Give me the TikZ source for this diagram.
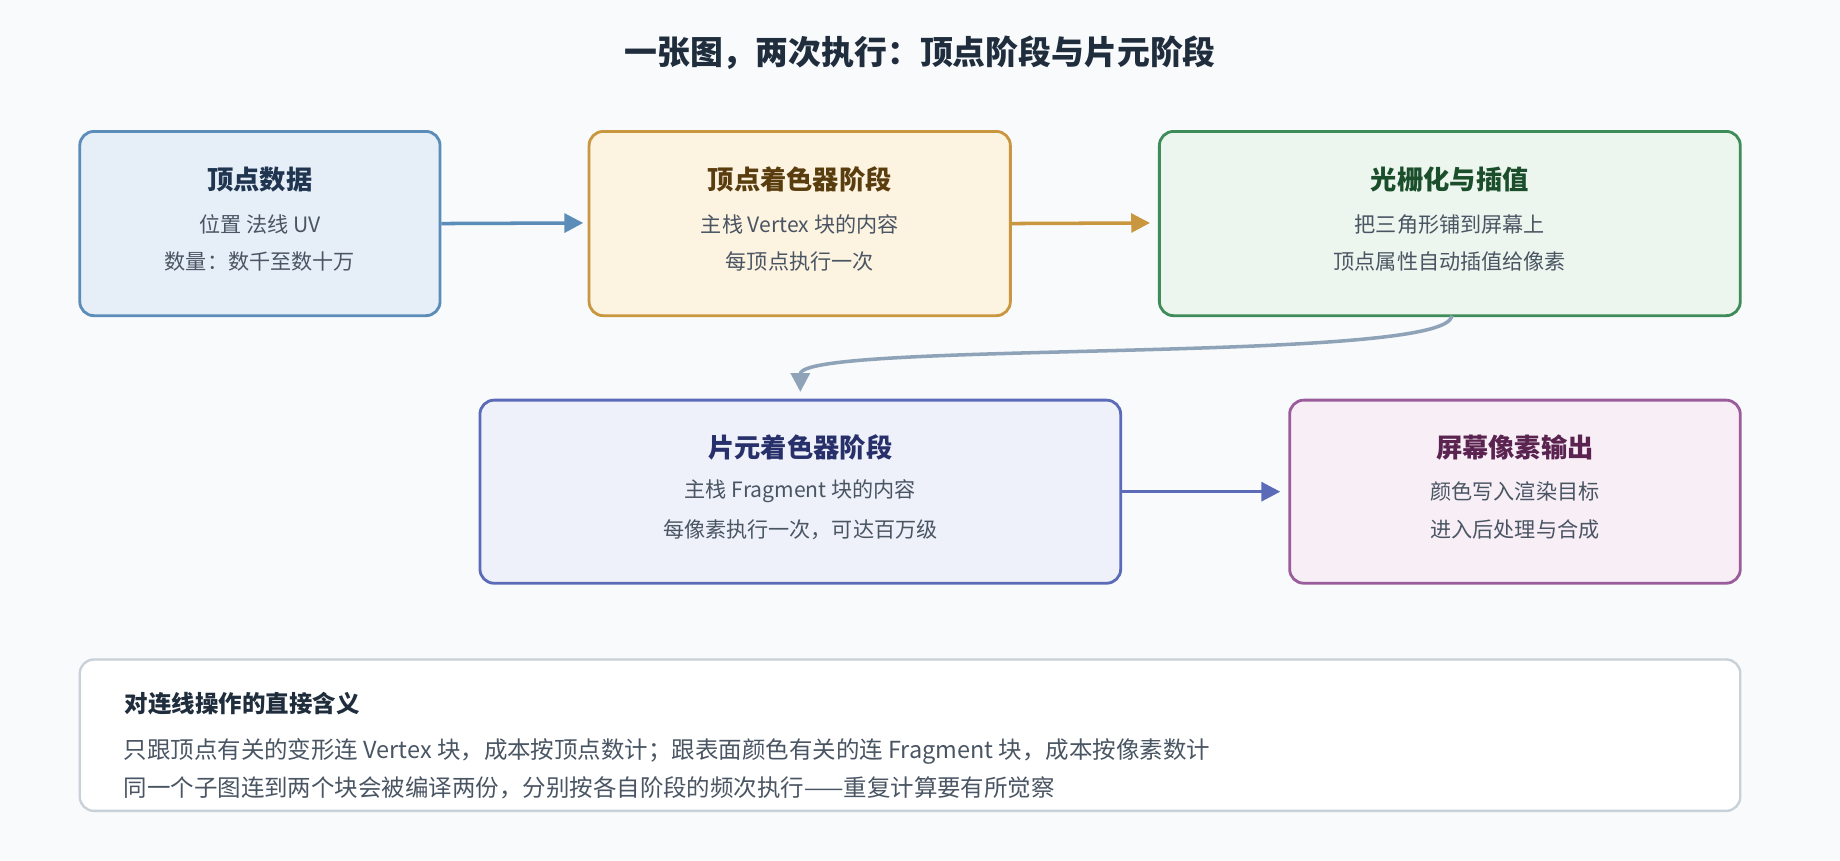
\documentclass[tikz,border=0pt]{standalone}
\usepackage{fontspec}
\setmainfont{Noto Sans CJK SC}
\usetikzlibrary{arrows.meta}
\definecolor{bg}{HTML}{F8FAFC}
\definecolor{ink}{HTML}{1F2D3D}
\definecolor{sub}{HTML}{4A5563}
\definecolor{bF}{HTML}{E6EEF8}\definecolor{bD}{HTML}{5B8DB8}\definecolor{bT}{HTML}{1F3550}
\definecolor{oF}{HTML}{FDF3E1}\definecolor{oD}{HTML}{C9973F}\definecolor{oT}{HTML}{5A3D0E}
\definecolor{gF}{HTML}{EDF6EE}\definecolor{gD}{HTML}{3E8C5A}\definecolor{gT}{HTML}{1B4F2C}
\definecolor{iF}{HTML}{EEF1FA}\definecolor{iD}{HTML}{5B6BB8}\definecolor{iT}{HTML}{27306A}
\definecolor{pF}{HTML}{F7EEF6}\definecolor{pD}{HTML}{9A5C9A}\definecolor{pT}{HTML}{5A2350}
\definecolor{cD}{HTML}{8FA3B8}\definecolor{nD}{HTML}{C8D0D8}
\begin{document}
\begin{tikzpicture}[x=0.5pt,y=-0.5pt,
 box/.style={draw,line width=1.2pt,rounded corners=6pt},
 ttl/.style={font=\fontsize{11.2pt}{13pt}\selectfont\bfseries,anchor=center},
 txt/.style={font=\fontsize{9pt}{11pt}\selectfont,text=sub,anchor=center},
 ftx/.style={font=\fontsize{10pt}{12pt}\selectfont,text=sub,anchor=west,inner sep=0pt},
 arr/.style={line width=1.5pt,-{Triangle[length=8pt,width=8pt]}}]
\fill[bg] (0,0) rectangle (1568,733);
\useasboundingbox (0,0) rectangle (1568,733);
\node[font=\fontsize{14pt}{16pt}\selectfont\bfseries,text=ink] (title) at (784,45) {一张图，两次执行：顶点阶段与片元阶段};
% boxes
\node[box,draw=bD,fill=bF,minimum width=307*0.5pt,minimum height=157*0.5pt] (a) at (221.5,190.5) {};
\node[box,draw=oD,fill=oF,minimum width=359*0.5pt,minimum height=157*0.5pt] (b) at (681.5,190.5) {};
\node[box,draw=gD,fill=gF,minimum width=495*0.5pt,minimum height=157*0.5pt] (c) at (1235.5,190.5) {};
\node[box,draw=iD,fill=iF,minimum width=546*0.5pt,minimum height=156*0.5pt] (d) at (682,419) {};
\node[box,draw=pD,fill=pF,minimum width=384*0.5pt,minimum height=156*0.5pt] (e) at (1291,419) {};
\node[box,draw=nD,fill=white,line width=1pt,minimum width=1415*0.5pt,minimum height=129*0.5pt] (f) at (775.5,626.5) {};
% texts
\node[ttl,text=bT] (at) at (221.5,153) {顶点数据};
\node[txt] (a1) at (221.5,191) {位置 法线 UV};
\node[txt] (a2) at (221.5,223) {数量：数千至数十万};
\node[ttl,text=oT] (bt) at (681.5,153) {顶点着色器阶段};
\node[txt] (b1) at (681.5,191) {主栈 Vertex 块的内容};
\node[txt] (b2) at (681.5,223) {每顶点执行一次};
\node[ttl,text=gT] (ct) at (1235.5,153) {光栅化与插值};
\node[txt] (c1) at (1235.5,191) {把三角形铺到屏幕上};
\node[txt] (c2) at (1235.5,223) {顶点属性自动插值给像素};
\node[ttl,text=iT] (dt) at (682,381) {片元着色器阶段};
\node[txt] (d1) at (682,419) {主栈 Fragment 块的内容};
\node[txt] (d2) at (682,451) {每像素执行一次，可达百万级};
\node[ttl,text=pT] (et) at (1291,381) {屏幕像素输出};
\node[txt] (e1) at (1291,419) {颜色写入渲染目标};
\node[txt] (e2) at (1291,451) {进入后处理与合成};
\node[ftx,font=\fontsize{10pt}{12pt}\selectfont\bfseries,text=ink] (ft) at (106,600) {对连线操作的直接含义};
\node[ftx] (f1) at (105,640) {只跟顶点有关的变形连 Vertex 块，成本按顶点数计；跟表面颜色有关的连 Fragment 块，成本按像素数计};
\node[ftx] (f2) at (105,671) {同一个子图连到两个块会被编译两份，分别按各自阶段的频次执行——重复计算要有所觉察};
% arrows
\coordinate (b0) at (497,190);
\draw[arr,draw=bD,fill=bD] (a.east) -- (b0);
\coordinate (b9) at (980,190);
\draw[arr,draw=oD,fill=oD] (b.east) -- (b9);
\coordinate (c0) at (1237,269);\coordinate (d0) at (682,334);
\draw[line width=1.5pt,draw=cD,-{Triangle[length=8pt,width=8pt,fill=cD]}] (c0) .. controls (1237,310) and (682,290) .. (d0);
\coordinate (e0) at (1091,419);
\draw[arr,draw=iD,fill=iD] (d.east) -- (e0);
\end{tikzpicture}
\end{document}
